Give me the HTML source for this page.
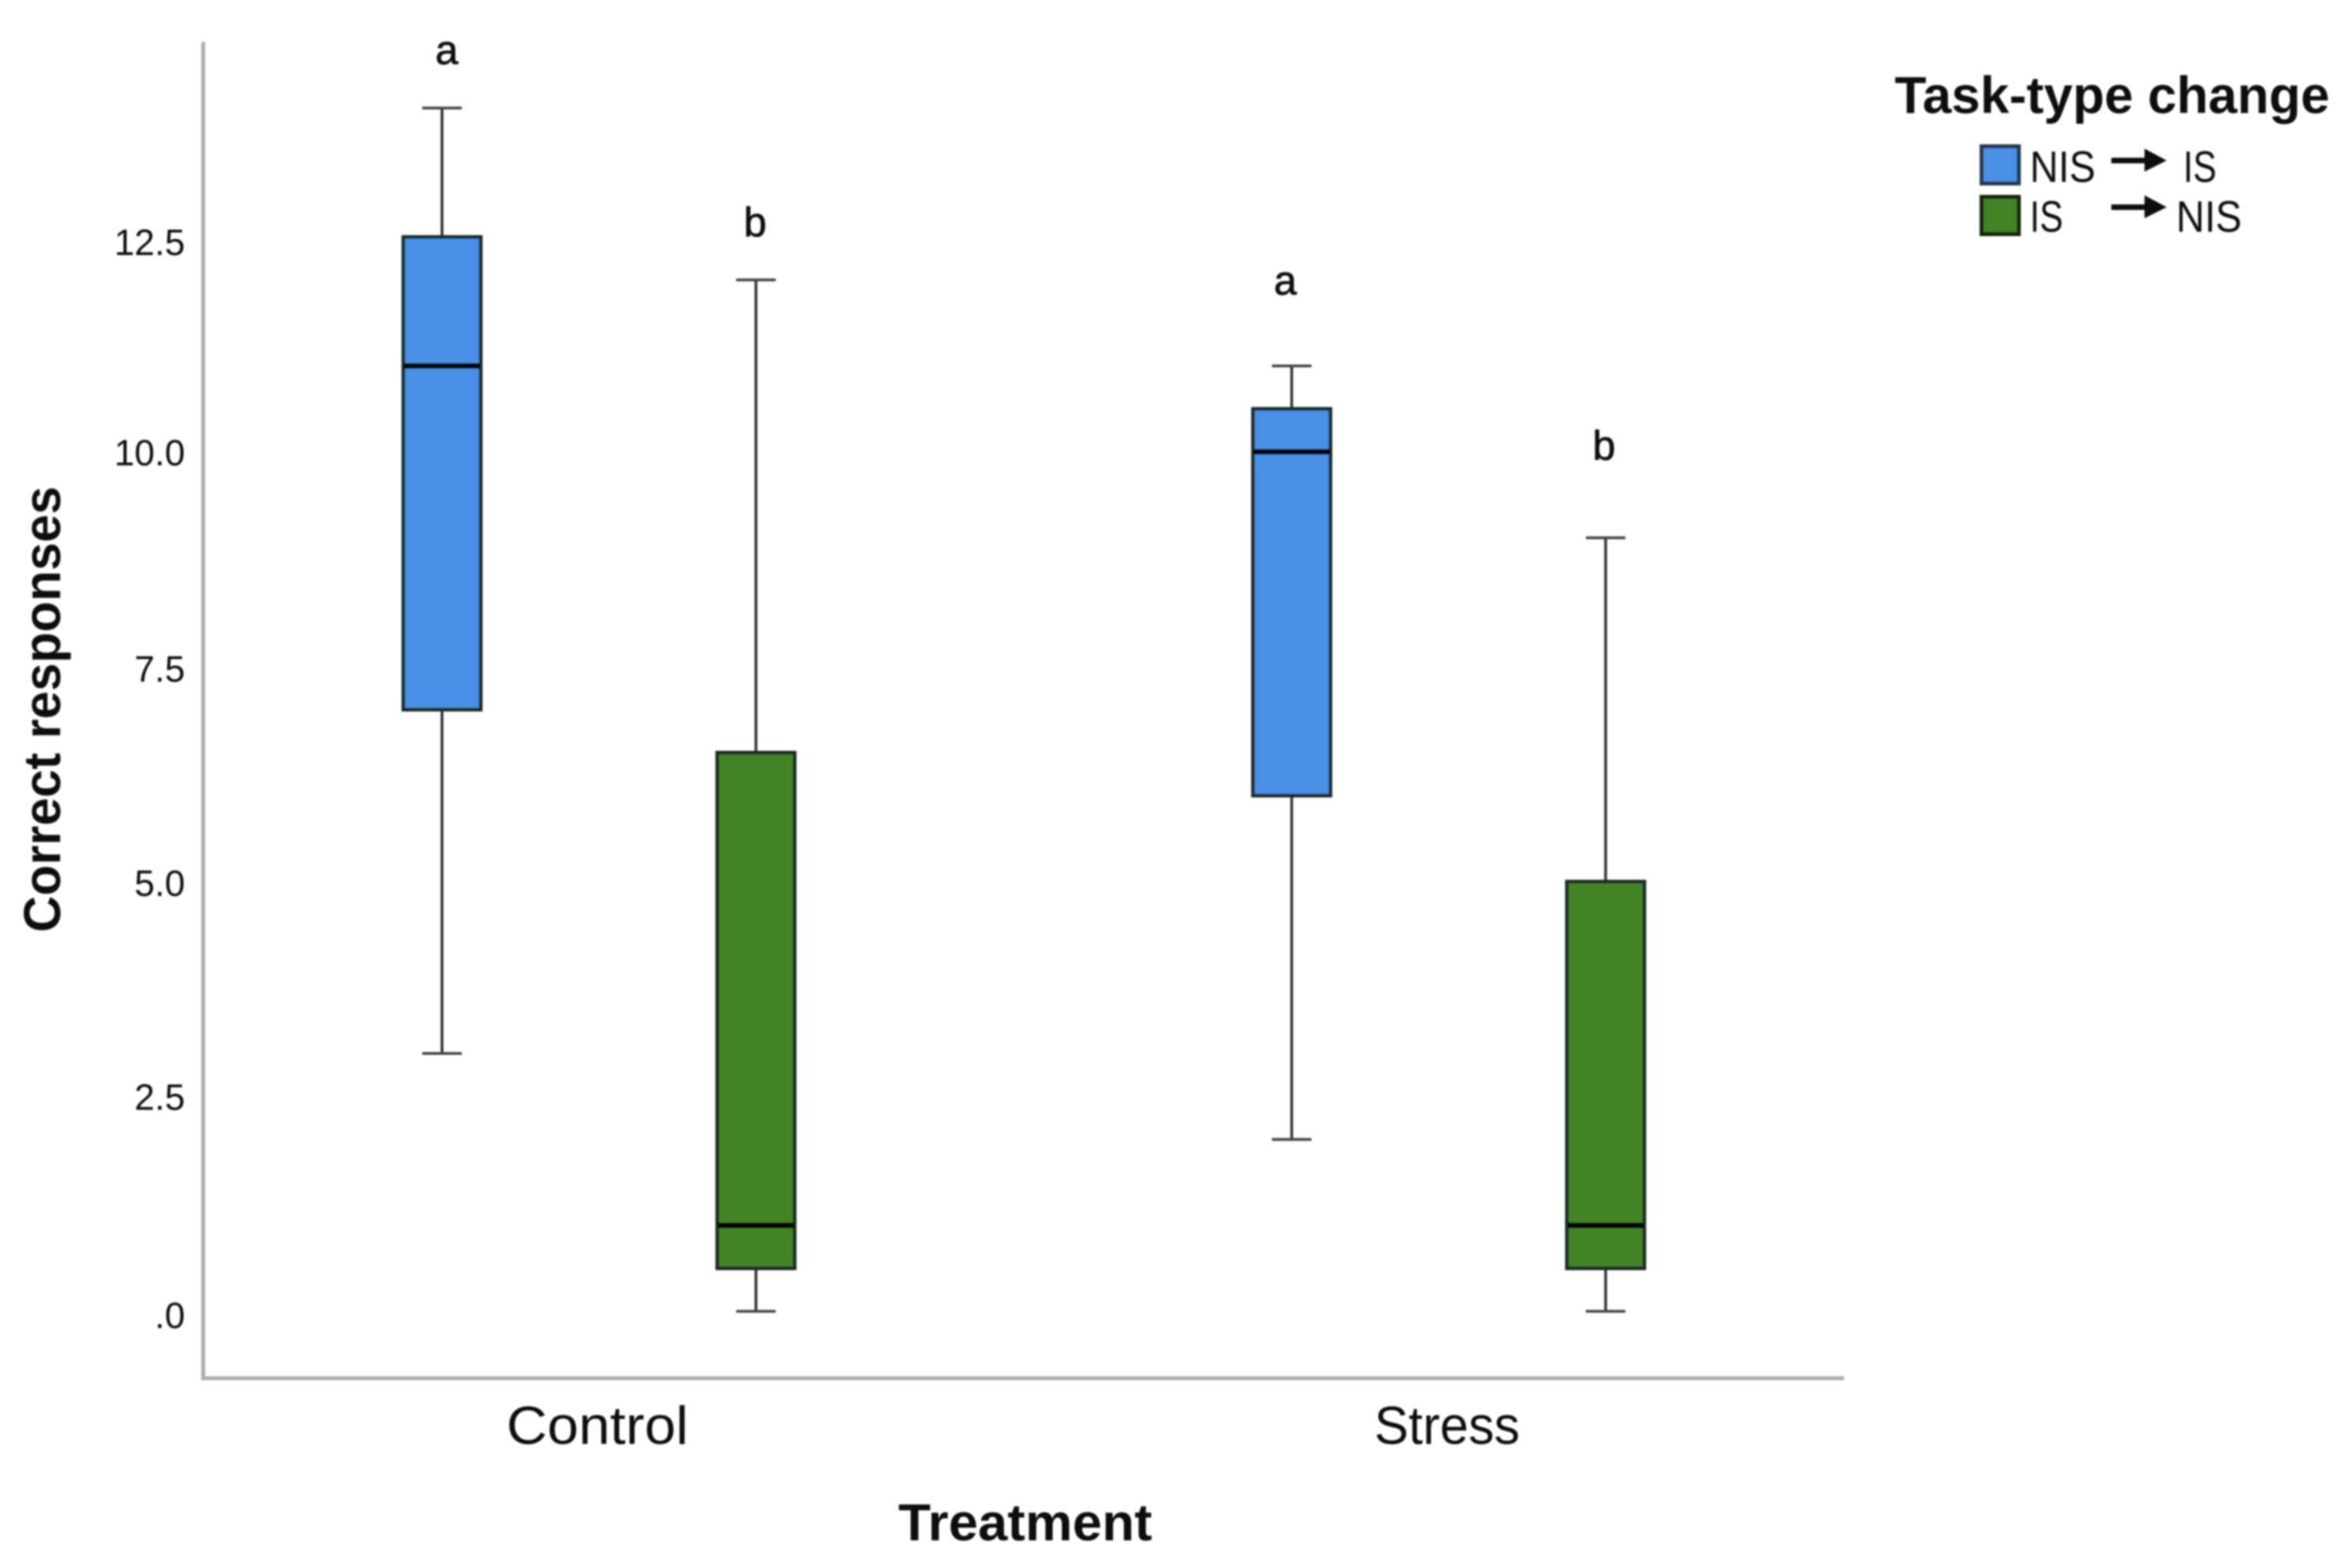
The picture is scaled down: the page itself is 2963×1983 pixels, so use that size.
<!DOCTYPE html>
<html lang="en">
<head>
<meta charset="utf-8">
<title>Correct responses by treatment and task-type change</title>
<style>
html,body{margin:0;padding:0;background:#fff;width:2963px;height:1983px;overflow:hidden}
svg{display:block}
text{font-family:"Liberation Sans",sans-serif;fill:#111}
</style>
</head>
<body>
<svg id="chart" xmlns="http://www.w3.org/2000/svg" width="2963" height="1983" viewBox="0 0 2963 1983">
  <defs><filter id="soft" x="-2%" y="-2%" width="104%" height="104%"><feGaussianBlur stdDeviation="1"/></filter></defs>
  <rect x="0" y="0" width="2963" height="1983" fill="#fff"/>
  <g id="root" filter="url(#soft)">
    <g id="marks"></g>
    <g id="yticks"></g>
    <g id="xticks"></g>
    <path d="M257 53V1743H2332" fill="none" stroke="#adadad" stroke-width="5"/>
    <text transform="translate(76 1179) rotate(-90)" font-size="66" font-weight="700" textLength="564" lengthAdjust="spacingAndGlyphs">Correct responses</text>
    <text x="1136" y="1948" font-size="66" font-weight="700" textLength="321" lengthAdjust="spacingAndGlyphs">Treatment</text>
    <g>
      <text x="2396" y="143" font-size="66" font-weight="700" textLength="550" lengthAdjust="spacingAndGlyphs">Task-type change</text>
      <rect x="2506" y="185" width="47" height="47" fill="#4a90e6" stroke="#26384a" stroke-width="5"/>
      <text x="2567" y="230" font-size="56" textLength="83" lengthAdjust="spacingAndGlyphs">NIS</text>
      <path d="M2670 203H2714" stroke="#111" stroke-width="7" fill="none"/>
      <polygon points="2712,188 2740,203 2712,217" fill="#111"/>
      <text x="2761" y="230" font-size="56" textLength="42" lengthAdjust="spacingAndGlyphs">IS</text>
      <rect x="2506" y="249" width="47" height="47" fill="#428327" stroke="#12200c" stroke-width="5"/>
      <text x="2567" y="293" font-size="56" textLength="42" lengthAdjust="spacingAndGlyphs">IS</text>
      <path d="M2670 262H2714" stroke="#111" stroke-width="7" fill="none"/>
      <polygon points="2712,247 2740,262 2712,276" fill="#111"/>
      <text x="2752" y="293" font-size="56" textLength="83" lengthAdjust="spacingAndGlyphs">NIS</text>
    </g>
  </g>
</svg>
<script>
// Chart data
const categories = ["Control", "Stress"];
const seriesNames = ["NIS to IS", "IS to NIS"];
const seriesFill = ["#4a90e6", "#428327"];
// Each series array: one value per category
const whiskerLow = [[3, 2], [0, 0]];
const quartile1 = [[7, 6], [0.5, 0.5]];
const medians = [[11, 10], [1, 1]];
const quartile3 = [[12.5, 10.5], [6.5, 5]];
const whiskerHigh = [[14, 11], [12, 9]];
const letters = [["a", "a"], ["b", "b"]];
const letterLevels = [[14.51, 11.83], [12.51, 9.91]];
const tickValues = [0, 2.5, 5, 7.5, 10, 12.5];
const tickLabels = [".0", "2.5", "5.0", "7.5", "10.0", "12.5"];

const NS = "http://www.w3.org/2000/svg";
const yScale = v => 1658.4 - 108.7 * v;
const categoryX = c => 757.5 + 1074.5 * c;
const boxX = (c, s) => categoryX(c) + (s - 0.5) * 397;

function make(tag, attrs, parent) {
  const n = document.createElementNS(NS, tag);
  for (const k in attrs) n.setAttribute(k, attrs[k]);
  parent.appendChild(n);
  return n;
}

const marks = document.getElementById("marks");
const yticks = document.getElementById("yticks");
const xticks = document.getElementById("xticks");
const letterNudge = [[6, -8], [-1, -2]];
const labelNudge = [21, 17, 18, 19, 17, 23];
const categoryLabelWidth = [230, 184];

tickValues.forEach((v, i) => {
  const t = make("text", { x: 234, y: yScale(v) + labelNudge[i], "font-size": 46, "text-anchor": "end", fill: "#222" }, yticks);
  
  
  t.textContent = tickLabels[i];
});

categories.forEach((name, c) => {
  const t = make("text", { x: categoryX(c) - 2, y: 1826, "font-size": 68, "text-anchor": "middle", textLength: categoryLabelWidth[c], lengthAdjust: "spacingAndGlyphs" }, xticks);
  
  
  t.textContent = name;

  seriesNames.forEach((sName, s) => {
    const cx = boxX(c, s);
    const g = make("g", {}, marks);
    
    

    const stem = make("line", { x1: cx, x2: cx, y1: yScale(whiskerLow[s][c]), y2: yScale(whiskerHigh[s][c]), stroke: "#333", "stroke-width": 3.5 }, g);
    
    

    const capTop = make("line", { x1: cx - 25, x2: cx + 25, y1: yScale(whiskerHigh[s][c]), y2: yScale(whiskerHigh[s][c]), stroke: "#444", "stroke-width": 3.5 }, g);
    
    

    const capLow = make("line", { x1: cx - 25, x2: cx + 25, y1: yScale(whiskerLow[s][c]), y2: yScale(whiskerLow[s][c]), stroke: "#444", "stroke-width": 3.5 }, g);
    
    

    const box = make("rect", { x: cx - 49, width: 98, y: yScale(quartile3[s][c]), height: yScale(quartile1[s][c]) - yScale(quartile3[s][c]), fill: seriesFill[s], stroke: "#1d2a22", "stroke-width": 4.5 }, g);
    
    

    const med = make("line", { x1: cx - 48, x2: cx + 48, y1: yScale(medians[s][c]), y2: yScale(medians[s][c]), stroke: "#000", "stroke-width": 7 }, g);
    
    

    const lab = make("text", { x: cx + letterNudge[s][c], y: yScale(letterLevels[s][c]), "font-size": 52, "text-anchor": "middle", stroke: "#111", "stroke-width": 0.8 }, g);
    
    
    lab.textContent = letters[s][c];
  });
});
</script>
</body>
</html>
